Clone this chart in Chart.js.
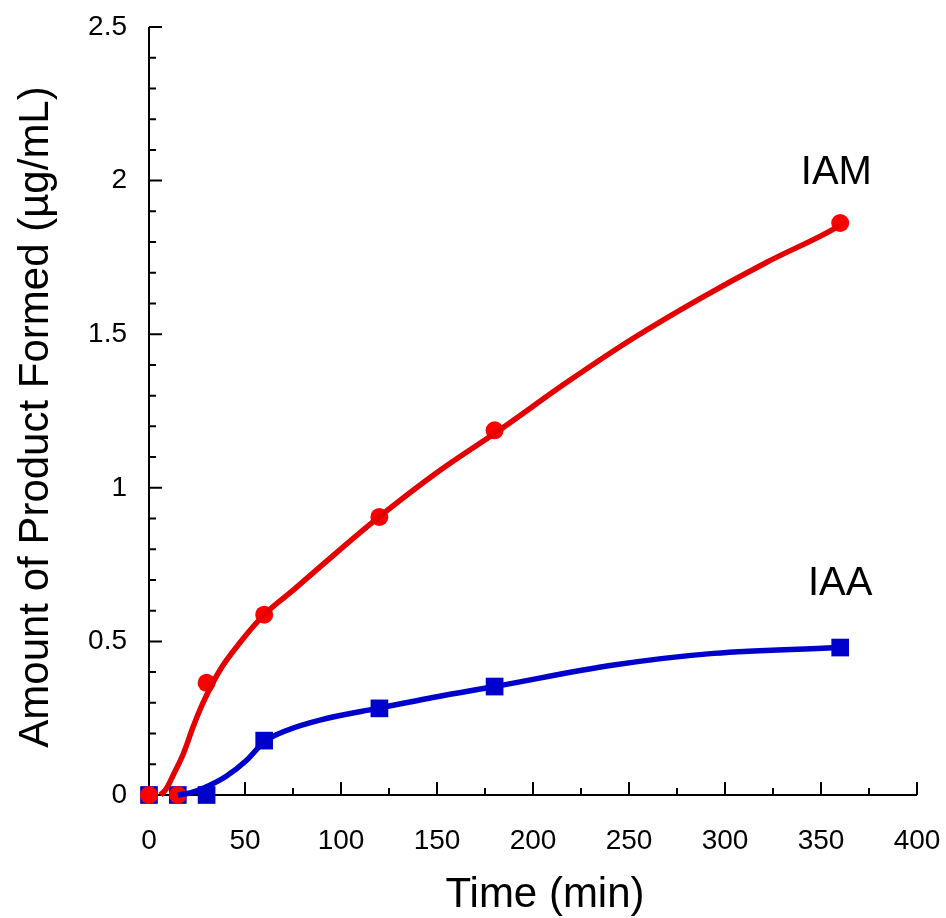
<!DOCTYPE html>
<html lang="en">
<head>
<meta charset="utf-8">
<title>Amount of Product Formed</title>
<script src="https://cdn.jsdelivr.net/npm/chart.js@4.4.1/dist/chart.umd.min.js"></script>
<style>
  html, body { margin: 0; padding: 0; background: #fff; }
  #wrap { width: 946px; height: 918px; }
</style>
</head>
<body>
<div id="wrap"><canvas id="productChart" width="946" height="918"></canvas></div>
<script>
// ============================================================================
// Product formation over time – IAM vs IAA (measured points + fitted curves)
// ============================================================================

/* ============================================================
   Data
============================================================ */
const sampleTimes = [0, 15, 30, 60, 120, 180, 360];
const iamMeasured = [0, 0, 0.365, 0.587, 0.905, 1.187, 1.862];
const iaaMeasured = [0, 0, 0, 0.177, 0.282, 0.353, 0.48];

// fitted curves
const iamFitTimes = [6, 9, 13, 18, 23, 28, 37, 47, 60, 74, 93, 120, 150, 183, 218, 252, 287, 322, 357, 360];
const iamFitValues = [0, 0.02, 0.07, 0.136, 0.222, 0.298, 0.407, 0.493, 0.587, 0.661, 0.764, 0.906, 1.05, 1.19, 1.345, 1.486, 1.616, 1.735, 1.844, 1.856];
const iaaFitTimes = [15, 22, 30, 40, 51, 60, 72, 89, 119, 150, 180, 242, 294, 360];
const iaaFitValues = [0, 0.008, 0.027, 0.06, 0.114, 0.173, 0.211, 0.244, 0.282, 0.32, 0.353, 0.423, 0.461, 0.48];

const xTickValues = [0, 50, 100, 150, 200, 250, 300, 350, 400];
const xMinorTicks = [25, 75, 125, 175, 225, 275, 325, 375];
const yTickValues = [0, 0.5, 1, 1.5, 2, 2.5];
const yMinorTicks = [0.1, 0.2, 0.3, 0.4, 0.6, 0.7, 0.8, 0.9, 1.1, 1.2, 1.3, 1.4,
  1.6, 1.7, 1.8, 1.9, 2.1, 2.2, 2.3, 2.4];

const seriesNames = ["IAM", "IAA"];

const FONT = '"Liberation Sans", Arial, Helvetica, sans-serif';
const RED = "#e40000";
const RED_DOT = "#ff0000";
const BLUE = "#0000cc";

const toPoints = (xs, ys) => xs.map((x, i) => ({ x, y: ys[i] }));

// keep tick labels from pushing the plot area inwards
const noLabelOverflow = (s) => {
  s.paddingLeft = 0;
  s.paddingRight = 0;
  s.paddingTop = 0;
  s.paddingBottom = 0;
};

/* ============================================================
   Axis frame, inward ticks, titles and series labels
============================================================ */
const axisFrame = {
  id: "axisFrame",
  beforeDatasetsDraw(chart) {
    const { ctx, chartArea: a, scales: { x, y } } = chart;
    ctx.save();
    ctx.strokeStyle = "#000";
    ctx.lineWidth = 2;
    ctx.beginPath();
    ctx.moveTo(a.left, a.top);
    ctx.lineTo(a.left, a.bottom);
    ctx.lineTo(a.right, a.bottom);

    xTickValues.forEach((v) => {
      const px = x.getPixelForValue(v);
      ctx.moveTo(px, a.bottom);
      ctx.lineTo(px, a.bottom - 13);
    });
    xMinorTicks.forEach((v) => {
      const px = x.getPixelForValue(v);
      ctx.moveTo(px, a.bottom);
      ctx.lineTo(px, a.bottom - 7);
    });
    yTickValues.forEach((v) => {
      const py = y.getPixelForValue(v);
      ctx.moveTo(a.left, py);
      ctx.lineTo(a.left + 13, py);
    });
    yMinorTicks.forEach((v) => {
      const py = y.getPixelForValue(v);
      ctx.moveTo(a.left, py);
      ctx.lineTo(a.left + 7, py);
    });
    ctx.stroke();
    ctx.restore();
  },
  afterDraw(chart, args, opts) {
    const { ctx, scales: { x, y } } = chart;
    ctx.save();
    ctx.fillStyle = "#000";
    ctx.textBaseline = "alphabetic";
    ctx.textAlign = "center";

    // series names next to the curve ends
    ctx.font = `40px ${FONT}`;
    opts.labels.forEach((l) => {
      ctx.fillText(l.text, x.getPixelForValue(l.x), y.getPixelForValue(l.y));
    });

    // axis titles
    ctx.font = `42px ${FONT}`;
    ctx.fillText(opts.xTitle, 545, 907);

    ctx.translate(48, 417);
    ctx.rotate(-Math.PI / 2);
    ctx.fillText(opts.yTitle, 0, 0);
    ctx.restore();
  },
};

/* ============================================================
   Chart
============================================================ */
new Chart(document.getElementById("productChart"), {
  type: "scatter",
  data: {
    datasets: [
      {
        label: "IAM fit",
        data: toPoints(iamFitTimes, iamFitValues),
        showLine: true,
        borderColor: RED,
        borderWidth: 5.5,
        pointRadius: 0,
        cubicInterpolationMode: "monotone",
        clip: false,
      },
      {
        label: "IAA fit",
        data: toPoints(iaaFitTimes, iaaFitValues),
        showLine: true,
        borderColor: BLUE,
        borderWidth: 5.5,
        pointRadius: 0,
        cubicInterpolationMode: "monotone",
        clip: false,
      },
      {
        label: seriesNames[0],
        data: toPoints(sampleTimes, iamMeasured),
        pointStyle: "circle",
        pointRadius: 9,
        borderWidth: 0,
        backgroundColor: RED_DOT,
        clip: false,
      },
      {
        label: seriesNames[1],
        data: toPoints(sampleTimes, iaaMeasured),
        pointStyle: "rect",
        pointRadius: 12.5,
        borderWidth: 0,
        backgroundColor: BLUE,
        clip: false,
      },
    ],
  },
  options: {
    responsive: false,
    animation: false,
    events: [],
    layout: { padding: { left: 0, top: 27, right: 29, bottom: 0 } },
    plugins: {
      legend: { display: false },
      tooltip: { enabled: false },
      axisFrame: {
        xTitle: "Time (min)",
        yTitle: "Amount of Product Formed (\u00b5g/mL)",
        labels: [
          { text: seriesNames[0], x: 358, y: 1.99 },
          { text: seriesNames[1], x: 360, y: 0.65 },
        ],
      },
    },
    scales: {
      x: {
        type: "linear",
        min: 0,
        max: 400,
        grid: { display: false, drawTicks: false },
        border: { display: false },
        afterFit: (s) => { s.height = 123; noLabelOverflow(s); },
        afterBuildTicks: (s) => { s.ticks = xTickValues.map((v) => ({ value: v })); },
        ticks: {
          padding: 29,
          maxRotation: 0,
          color: "#000",
          font: { family: FONT, size: 28 },
          callback: (v) => String(v),
        },
      },
      y: {
        type: "linear",
        min: 0,
        max: 2.5,
        grid: { display: false, drawTicks: false },
        border: { display: false },
        afterFit: (s) => { s.width = 149; noLabelOverflow(s); },
        afterBuildTicks: (s) => { s.ticks = yTickValues.map((v) => ({ value: v })); },
        ticks: {
          padding: 22,
          color: "#000",
          font: { family: FONT, size: 28 },
          callback: (v) => String(v),
        },
      },
    },
  },
  plugins: [axisFrame],
});
</script>
</body>
</html>
